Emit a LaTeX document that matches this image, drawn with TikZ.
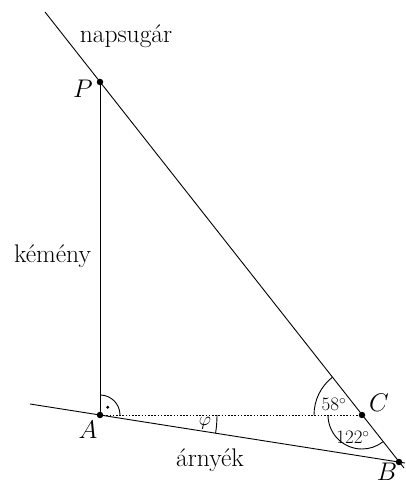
\RequirePackage{fix-cm}
\documentclass[tikz,border=0pt]{standalone}
\usepackage{fontspec}
\usetikzlibrary{calc}
\tikzset{
  geo/.style={line width=0.9pt},
  pt/.style={circle,fill=black,inner sep=0pt,minimum size=6.5pt},
  big/.style={inner sep=0pt,anchor=base,font=\fontsize{25.5}{30}\selectfont},
  small/.style={inner sep=0pt,anchor=base,font=\fontsize{19}{23}\selectfont}
}
\begin{document}
\begin{tikzpicture}[x=1pt,y=1pt]
\useasboundingbox (0,0) rectangle (405,485);
\coordinate (A) at (100,70);
\coordinate (P) at (100,403);
\coordinate (C) at (362,70);
\coordinate (B) at (399,23);
\coordinate (rtop) at (45,473);
\coordinate (rbot) at (404,17);
\coordinate (gl) at (30,81);
\coordinate (gr) at (405,22);
% lines
\draw[geo] (rtop) -- (rbot);
\draw[geo] (gl) -- (gr);
\draw[geo] (A) -- (P);
\draw[geo, dash pattern=on 1.6pt off 1.6pt] (A) -- (C);
% angle marks
\draw[geo] ($(A)+(0:20)$) arc[start angle=0,end angle=90,radius=20];
\fill ($(A)+(45:11)$) circle (1.6pt);
\draw[geo] ($(A)+(0:117)$) arc[start angle=0,end angle=-8.93,radius=117];
\draw[geo] ($(C)+(180:48)$) arc[start angle=180,end angle=128.2,radius=48];
\draw[geo] ($(C)+(180:34)$) arc[start angle=180,end angle=308.2,radius=34];
% points
\node[pt] (nA) at (A) {};
\node[pt] (nP) at (P) {};
\node[pt] (nC) at (C) {};
\node[pt] (nB) at (B) {};
% labels
\node[big] (lnap) at (126,442) {napsugár};
\node[big] (lkem) at (52.5,222) {kémény};
\node[big] (larn) at (210,18) {árnyék};
\node[big] (lP) at (83,387) {$P$};
\node[big] (lA) at (88,46) {$A$};
\node[big] (lC) at (379,73) {$C$};
\node[big] (lB) at (387,5) {$B$};
\node[small] (l58) at (334,74) {$58^\circ$};
\node[small] (l122) at (353,41) {$122^\circ$};
\node[small] (lphi) at (205,59) {$\varphi$};
\end{tikzpicture}
\end{document}
